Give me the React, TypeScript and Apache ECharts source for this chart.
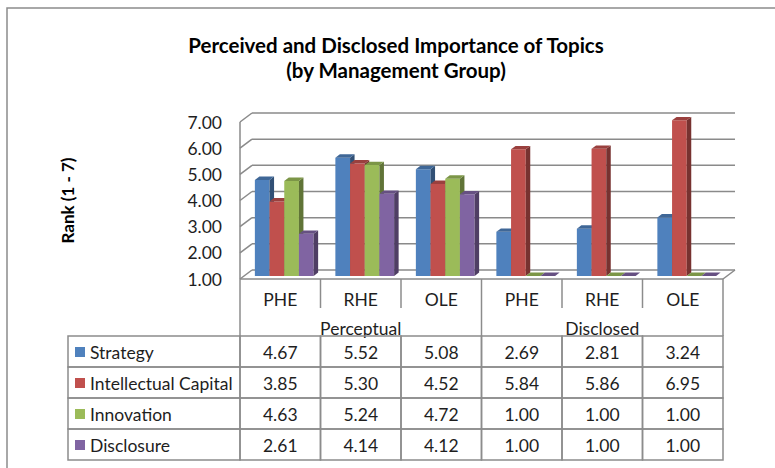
import React, { useEffect, useRef } from "react";
import * as echarts from "echarts";

const categories = ["PHE", "RHE", "OLE", "PHE", "RHE", "OLE"];
const groups = ["Perceptual", "Disclosed"];
const seriesNames = ["Strategy", "Intellectual Capital", "Innovation", "Disclosure"];
const strategy = [4.67, 5.52, 5.08, 2.69, 2.81, 3.24];
const intellectualCapital = [3.85, 5.3, 4.52, 5.84, 5.86, 6.95];
const innovation = [4.63, 5.24, 4.72, 1.0, 1.0, 1.0];
const disclosure = [2.61, 4.14, 4.12, 1.0, 1.0, 1.0];
const yTicks = [1, 2, 3, 4, 5, 6, 7];
const colors = ["#4F81BD", "#C0504D", "#9BBB59", "#8064A2"];

const FONT = "Lato, 'Noto Sans', sans-serif";
const TEXT = "#1e1e1e";
const FS = 17.5;
const GRID_C = "#8a8a8a";
const BORDER = "#8c8c8c";
const WALL_DX = 12;
const WALL_DY = -9;
const BAR_OX = 4;
const BAR_OY = -3;
const BAR_DX = 4.5;
const BAR_DY = -3.4;
const HEADER_H = 57;
const SHORT_H = 29;
const ROW_H = 31;
const LABEL_W = 172;

function shade(hex: string, f: number) {
  const n = parseInt(hex.slice(1), 16);
  const r = Math.round(((n >> 16) & 255) * f);
  const g = Math.round(((n >> 8) & 255) * f);
  const b = Math.round((n & 255) * f);
  return `rgb(${r},${g},${b})`;
}

export default function App() {
  const ref = useRef<HTMLDivElement>(null);
  useEffect(() => {
    if (!ref.current) return;
    const chart = echarts.init(ref.current, null, { renderer: "svg" });
    const seriesData = [strategy, intellectualCapital, innovation, disclosure];

    const wallSeries: any = {
      type: "custom",
      name: "walls",
      silent: true,
      z: 1,
      data: yTicks.map((t) => [0, t]),
      renderItem: (params: any, api: any) => {
        const t = api.value(1);
        const catW = api.size([1, 0])[0];
        const p = api.coord([0, t]);
        const q = api.coord([categories.length - 1, t]);
        const xl = p[0] - catW / 2;
        const xr = q[0] + catW / 2;
        const y = p[1];
        const ls = { stroke: GRID_C, lineWidth: 1.5 };
        const children: any[] = [
          { type: "line", shape: { x1: xl + WALL_DX, y1: y + WALL_DY, x2: xr + WALL_DX, y2: y + WALL_DY }, style: ls },
          { type: "line", shape: { x1: xl, y1: y, x2: xl + WALL_DX, y2: y + WALL_DY }, style: ls },
        ];
        if (t === yTicks[0]) {
          const topY = api.coord([0, yTicks[yTicks.length - 1]])[1];
          children.push(
            { type: "line", shape: { x1: xl, y1: y, x2: xr, y2: y }, style: ls },
            { type: "line", shape: { x1: xr, y1: y, x2: xr + WALL_DX, y2: y + WALL_DY }, style: ls },
            { type: "line", shape: { x1: xl, y1: y, x2: xl, y2: topY }, style: ls }
          );
        }
        return { type: "group", children };
      },
    };

    const barSeries = seriesData.map((vals, s) => ({
      type: "custom",
      name: seriesNames[s],
      z: 2,
      data: vals.map((v, i) => [i, v]),
      renderItem: (params: any, api: any) => {
        const c = api.value(0);
        const v = api.value(1);
        const catW = api.size([1, 0])[0];
        const base = api.coord([c, 1]);
        const top = api.coord([c, v]);
        const groupW = catW * 0.73;
        const bw = groupW / 4;
        const x0 = base[0] + BAR_OX - groupW / 2 + s * bw;
        const yb = base[1] + BAR_OY;
        const yt = top[1] + BAR_OY;
        const col = colors[s];
        return {
          type: "group",
          children: [
            { type: "rect", shape: { x: x0, y: yt, width: bw, height: yb - yt }, style: { fill: col } },
            {
              type: "polygon",
              shape: { points: [[x0 + bw, yt], [x0 + bw + BAR_DX, yt + BAR_DY], [x0 + bw + BAR_DX, yb + BAR_DY], [x0 + bw, yb]] },
              style: { fill: shade(col, 0.62) },
            },
            {
              type: "polygon",
              shape: { points: [[x0, yt], [x0 + BAR_DX, yt + BAR_DY], [x0 + bw + BAR_DX, yt + BAR_DY], [x0 + bw, yt]] },
              style: { fill: shade(col, 0.8) },
            },
          ],
        };
      },
    }));

    const tableData: any[] = [];
    seriesData.forEach((vals, s) => vals.forEach((v, c) => tableData.push([c, s, v])));

    const tableSeries: any = {
      type: "custom",
      name: "table",
      silent: true,
      z: 3,
      data: tableData,
      renderItem: (params: any, api: any) => {
        const c = api.value(0);
        const s = api.value(1);
        const val = api.value(2);
        const catW = api.size([1, 0])[0];
        const p = api.coord([c, 1]);
        const left = p[0] - catW / 2;
        const floorY = p[1];
        const top = floorY + HEADER_H + s * ROW_H;
        const ls = { stroke: BORDER, lineWidth: 1.5, fill: "none" };
        const txt = (text: string, x: number, y: number, align: string) => ({
          type: "text",
          style: {
            text, x, y,
            textAlign: align, align,
            textVerticalAlign: "middle", verticalAlign: "middle",
            fontSize: FS, fontFamily: FONT, fill: TEXT,
          },
        });
        const children: any[] = [
          { type: "rect", shape: { x: left, y: top, width: catW, height: ROW_H }, style: ls },
          txt(val.toFixed(2), p[0], top + ROW_H / 2 + 1, "center"),
        ];
        if (c === 0) {
          const lx = left - LABEL_W;
          children.push(
            { type: "rect", shape: { x: lx, y: top, width: LABEL_W, height: ROW_H }, style: ls },
            { type: "rect", shape: { x: lx + 7, y: top + 11, width: 10, height: 10 }, style: { fill: colors[s] } },
            txt(seriesNames[s], lx + 22, top + ROW_H / 2 + 1, "left")
          );
        }
        if (s === 0) {
          const h = c % 3 === 0 ? HEADER_H : SHORT_H;
          children.push({ type: "line", shape: { x1: left, y1: floorY, x2: left, y2: floorY + h }, style: ls });
          if (c === categories.length - 1) {
            children.push({ type: "line", shape: { x1: left + catW, y1: floorY, x2: left + catW, y2: floorY + HEADER_H }, style: ls });
          }
        }
        return { type: "group", children };
      },
    };

    chart.setOption({
      animation: false,
      backgroundColor: "#ffffff",
      title: {
        text: "Perceived and Disclosed Importance of Topics\n(by Management Group)",
        left: 391,
        top: 28,
        textAlign: "center",
        textStyle: { fontFamily: FONT, fontSize: 20.5, fontWeight: "bold", color: "#000", lineHeight: 24.5 },
      },
      graphic: [
        {
          type: "rect",
          shape: { x: 7, y: 8, width: 800, height: 500 },
          style: { fill: "none", stroke: "#8c8c8c", lineWidth: 1.5 },
          silent: true,
        },
      ],
      grid: { left: 240, right: 52, top: 122, bottom: 189 },
      xAxis: [
        {
          type: "category",
          data: categories,
          axisLine: { show: false },
          axisTick: { show: false },
          splitLine: { show: false },
          axisLabel: { fontFamily: FONT, fontSize: FS, color: TEXT, margin: 11 },
        },
        {
          type: "category",
          data: groups,
          position: "bottom",
          gridIndex: 0,
          axisLine: { show: false },
          axisTick: { show: false },
          splitLine: { show: false },
          axisLabel: { fontFamily: FONT, fontSize: FS, color: TEXT, margin: 40 },
        },
      ],
      yAxis: {
        type: "value",
        min: 1,
        max: 7,
        interval: 1,
        name: "Rank (1 - 7)",
        nameLocation: "middle",
        nameGap: 164,
        nameRotate: 90,
        nameTextStyle: { fontFamily: FONT, fontSize: 17, fontWeight: "bold", color: "#000" },
        axisLine: { show: false },
        axisTick: { show: false },
        splitLine: { show: false },
        axisLabel: {
          fontFamily: FONT,
          fontSize: FS,
          color: TEXT,
          margin: 18,
          padding: [6, 0, 0, 0],
          formatter: (v: number) => v.toFixed(2),
        },
      },
      series: [wallSeries, ...barSeries, tableSeries],
    });
    return () => chart.dispose();
  }, []);
  return <div ref={ref} style={{ position: "fixed", left: 0, top: 0, width: 775, height: 468 }} />;
}
